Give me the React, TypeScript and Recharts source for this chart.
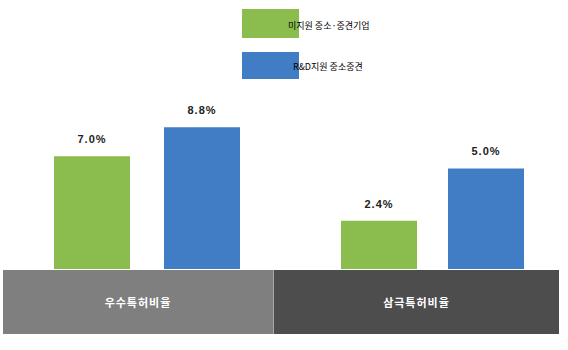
import React from "react";
import { BarChart, Bar, XAxis, YAxis, LabelList } from "recharts";

// two groups, each drawn on its own scale like the original picture
const categories = ["우수특허비율", "삼극특허비율"];
const seriesNames = ["미지원 중소·중견기업", "R&D지원 중소중견"];
const unsupported = [7.0, 2.4];
const supported = [8.8, 5.0];
const domainMax = [10, 8];

const GREEN = "#8abd4d";
const BLUE = "#417dc4";
const COLORS = [GREEN, BLUE];
const BAND_COLORS = ["#7f7f7f", "#4d4d4d"];

const KR_FONT = "'Noto Sans CJK KR', 'DejaVu Sans', sans-serif";

const fmt = (v: any) => `${Number(v).toFixed(1)}%`;

const labelStyle = {
  fill: "#222",
  fontSize: 11,
  fontWeight: "bold",
  letterSpacing: 1,
  fontFamily: "Arial, 'Liberation Sans', sans-serif",
};

// where each group's chart sits on the page
const groupBoxes = [
  { left: 0, width: 294, gap: 34 },
  { left: 297, width: 271, gap: 31 },
];
const bandBoxes = [
  { left: 3, width: 270 },
  { left: 273, width: 286 },
];

function GroupChart({ index }: { index: number }) {
  const data = [
    {
      name: categories[index],
      a: unsupported[index],
      b: supported[index],
    },
  ];
  const box = groupBoxes[index];
  return (
    <div style={{ position: "absolute", left: box.left, top: 0 }}>
      <BarChart
        width={box.width}
        height={350}
        data={data}
        margin={{ top: 108, right: 0, bottom: 81, left: 0 }}
        barSize={76}
        barGap={box.gap}
      >
        <XAxis dataKey="name" hide />
        <YAxis hide domain={[0, domainMax[index]]} />
        <Bar dataKey="a" fill={GREEN} isAnimationActive={false}>
          <LabelList dataKey="a" position="top" offset={13} formatter={fmt} style={labelStyle} />
        </Bar>
        <Bar dataKey="b" fill={BLUE} isAnimationActive={false}>
          <LabelList dataKey="b" position="top" offset={13} formatter={fmt} style={labelStyle} />
        </Bar>
      </BarChart>
    </div>
  );
}

export default function App() {
  return (
    <div
      style={{
        position: "absolute",
        left: 0,
        top: 0,
        width: 568,
        height: 350,
        background: "#fff",
        overflow: "hidden",
        fontFamily: KR_FONT,
      }}
    >
      {/* Legend */}
      {seriesNames.map((name, i) => (
        <div
          key={name}
          style={{
            position: "absolute",
            left: 242,
            top: i === 0 ? 9 : 52,
            height: i === 0 ? 29 : 27,
            display: "flex",
            alignItems: "center",
          }}
        >
          <div style={{ width: 57, height: "100%", background: COLORS[i] }} />
          <span
            style={{
              position: "relative",
              top: i === 0 ? 2 : 1,
              marginLeft: i === 0 ? -11 : -6,
              fontSize: 9,
              color: "#000",
              whiteSpace: "nowrap",
            }}
          >
            {name}
          </span>
        </div>
      ))}

      {/* Category bands */}
      {categories.map((c, i) => (
        <div
          key={c}
          style={{
            position: "absolute",
            left: bandBoxes[i].left,
            width: bandBoxes[i].width,
            top: 270,
            height: 64,
            background: BAND_COLORS[i],
            borderLeft: i === 1 ? "1px solid #a8a8a8" : undefined,
            boxSizing: "border-box",
            color: "#fff",
            fontSize: 11,
            fontWeight: "bold",
            letterSpacing: 1,
            display: "flex",
            alignItems: "center",
            justifyContent: "center",
          }}
        >
          {c}
        </div>
      ))}

      {categories.map((c, i) => (
        <GroupChart key={c} index={i} />
      ))}
    </div>
  );
}
